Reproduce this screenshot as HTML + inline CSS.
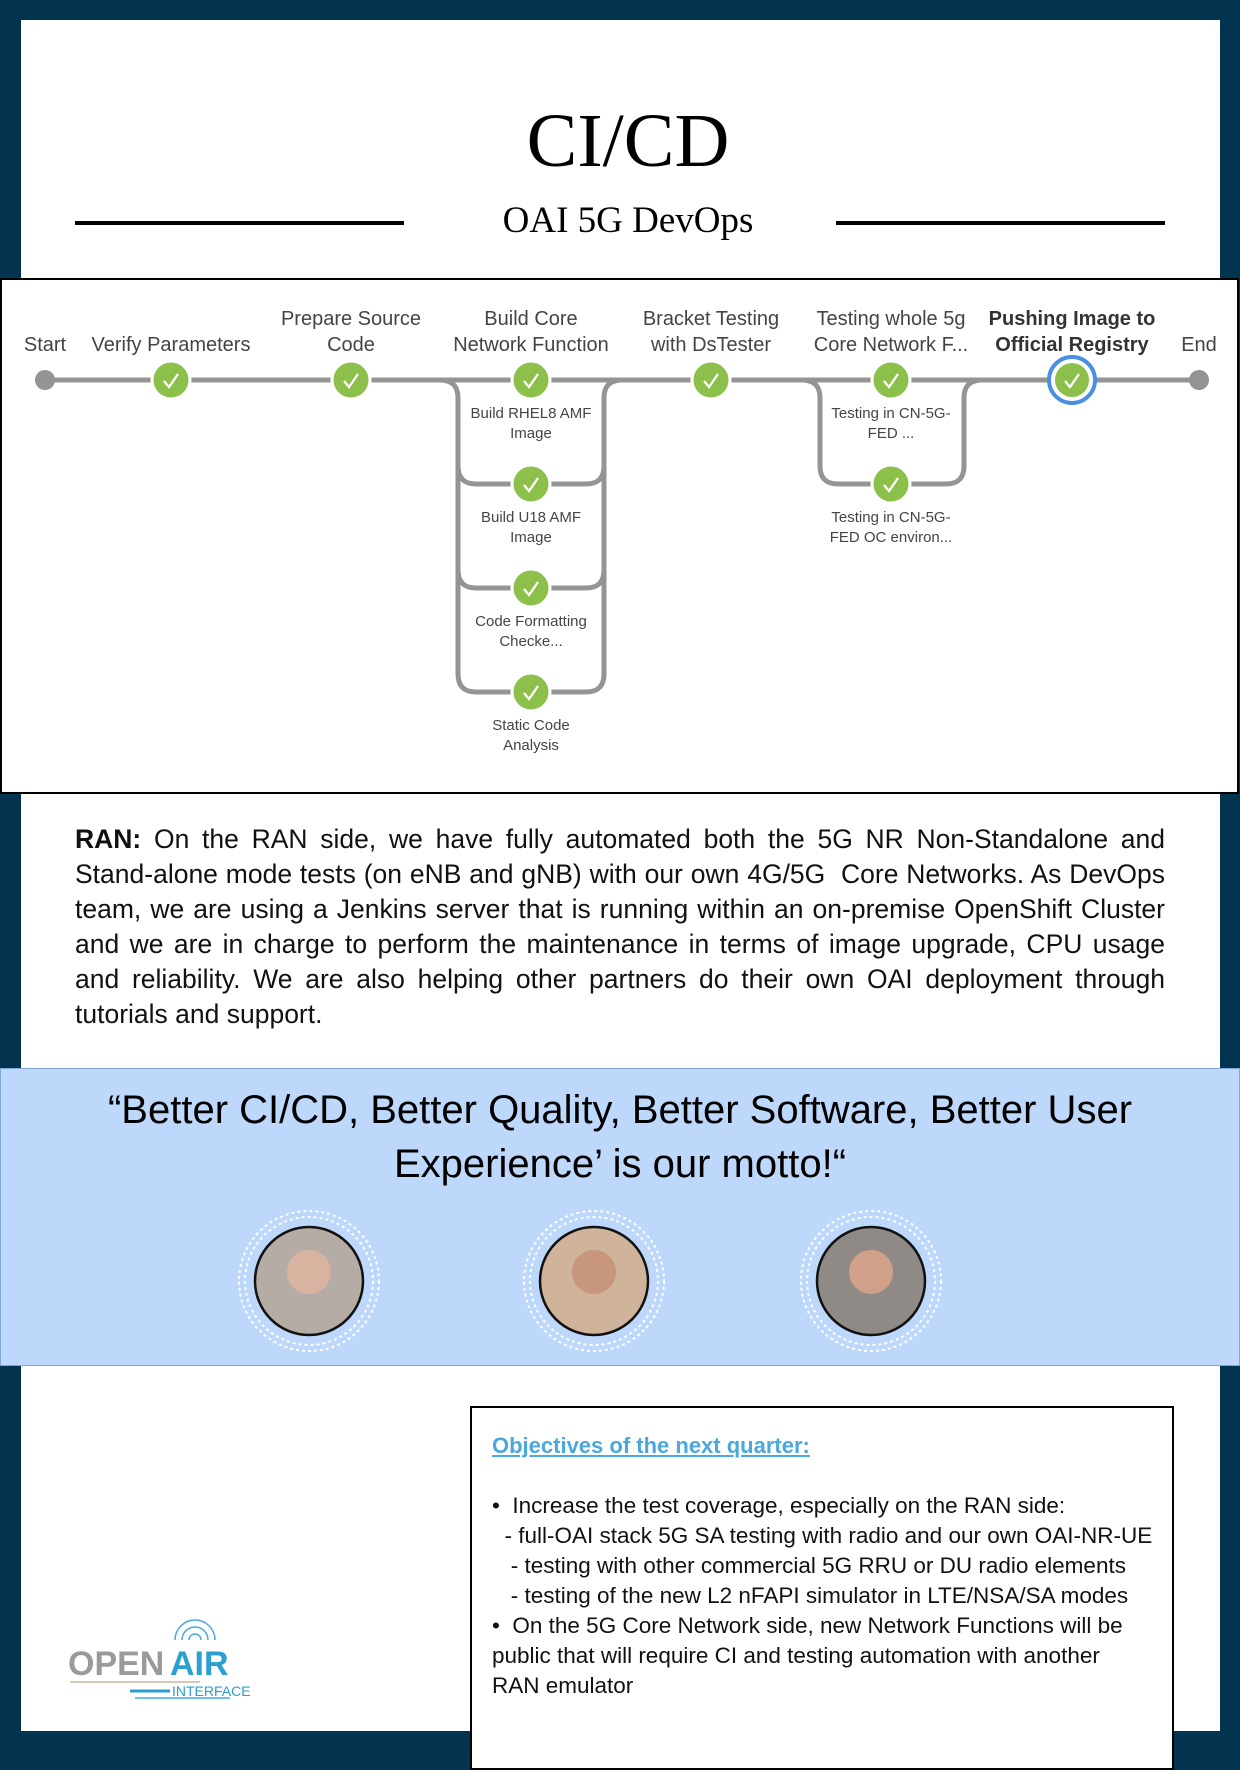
<!DOCTYPE html>
<html><head><meta charset="utf-8"><style>
html,body{margin:0;padding:0}
body{width:1240px;height:1754px;background:#02344f;position:relative;overflow:hidden;font-family:"Liberation Sans",sans-serif}
.panel{position:absolute;left:21px;top:20px;width:1199px;height:1711px;background:#fff}
.abs{position:absolute}
</style></head><body>
<div class="panel"></div>
<div class="abs" style="left:0;width:1256px;top:96px;text-align:center;font-family:'Liberation Serif',serif;font-size:76px;line-height:90px;color:#000">CI/CD</div>
<div class="abs" style="left:75px;top:221px;width:329px;height:4px;background:#000"></div>
<div class="abs" style="left:836px;top:221px;width:329px;height:4px;background:#000"></div>
<div class="abs" style="left:0;width:1256px;top:199px;text-align:center;font-family:'Liberation Serif',serif;font-size:37px;line-height:44px;color:#000">OAI 5G DevOps</div>

<svg class="abs" style="left:0;top:278px" width="1240" height="517" viewBox="0 278 1240 517" font-family="Liberation Sans, sans-serif">
<rect x="1" y="279" width="1237" height="514" fill="#fff" stroke="#000" stroke-width="2"/>
<g fill="none" stroke="#949494" stroke-width="5">
<line x1="45" y1="380" x2="1199" y2="380"/>
<path d="M440 380 Q458 380 458 398 V674 Q458 692 476 692 H586 Q604 692 604 674 V398 Q604 380 622 380"/>
<path d="M458 466 Q458 484 476 484 H586 Q604 484 604 466"/>
<path d="M458 570 Q458 588 476 588 H586 Q604 588 604 570"/>
<path d="M802 380 Q820 380 820 398 V466 Q820 484 838 484 H946 Q964 484 964 466 V398 Q964 380 982 380"/>
</g>
<circle cx="45" cy="380" r="10" fill="#949494"/>
<circle cx="1199" cy="380" r="10" fill="#949494"/>
<g fill="#8cc04b" stroke="#fff" stroke-width="3">
<circle cx="171" cy="380" r="19"/><circle cx="351" cy="380" r="19"/><circle cx="531" cy="380" r="19"/><circle cx="711" cy="380" r="19"/><circle cx="891" cy="380" r="19"/>
<circle cx="531" cy="484" r="19"/><circle cx="531" cy="588" r="19"/><circle cx="531" cy="692" r="19"/><circle cx="891" cy="484" r="19"/>
</g>
<circle cx="1072" cy="380" r="23" fill="#fff" stroke="#4a90e2" stroke-width="4"/>
<circle cx="1072" cy="380" r="17" fill="#8cc04b"/>
<g fill="none" stroke="#fff" stroke-width="2.2">
<path d="M164 381 l5 6 l9 -13"/><path d="M344 381 l5 6 l9 -13"/><path d="M524 381 l5 6 l9 -13"/><path d="M704 381 l5 6 l9 -13"/><path d="M884 381 l5 6 l9 -13"/><path d="M1065 381 l5 6 l9 -13"/>
<path d="M524 485 l5 6 l9 -13"/><path d="M524 589 l5 6 l9 -13"/><path d="M524 693 l5 6 l9 -13"/><path d="M884 485 l5 6 l9 -13"/>
</g>
<g fill="#444" font-size="20" text-anchor="middle">
<text x="45" y="351">Start</text>
<text x="171" y="351">Verify Parameters</text>
<text x="351" y="325">Prepare Source</text><text x="351" y="351">Code</text>
<text x="531" y="325">Build Core</text><text x="531" y="351">Network Function</text>
<text x="711" y="325">Bracket Testing</text><text x="711" y="351">with DsTester</text>
<text x="891" y="325">Testing whole 5g</text><text x="891" y="351">Core Network F...</text>
<text x="1072" y="325" font-weight="bold" fill="#333">Pushing Image to</text><text x="1072" y="351" font-weight="bold" fill="#333">Official Registry</text>
<text x="1199" y="351">End</text>
</g>
<g fill="#444" font-size="15" text-anchor="middle">
<text x="531" y="418">Build RHEL8 AMF</text><text x="531" y="438">Image</text>
<text x="531" y="522">Build U18 AMF</text><text x="531" y="542">Image</text>
<text x="531" y="626">Code Formatting</text><text x="531" y="646">Checke...</text>
<text x="531" y="730">Static Code</text><text x="531" y="750">Analysis</text>
<text x="891" y="418">Testing in CN-5G-</text><text x="891" y="438">FED ...</text>
<text x="891" y="522">Testing in CN-5G-</text><text x="891" y="542">FED OC environ...</text>
</g>
</svg>

<div class="abs" style="left:75px;top:822px;width:1090px;font-size:26.5px;line-height:35px;text-align:justify;color:#111">
<b>RAN:</b> On the RAN side, we have fully automated both the 5G NR Non-Standalone and Stand-alone mode tests (on eNB and gNB) with our own 4G/5G&nbsp; Core Networks. As DevOps team, we are using a Jenkins server that is running within an on-premise OpenShift Cluster and we are in charge to perform the maintenance in terms of image upgrade, CPU usage and reliability. We are also helping other partners do their own OAI deployment through tutorials and support.</div>

<div class="abs" style="left:0;top:1068px;width:1238px;height:296px;background:#bdd8fb;border:1px solid #7ea7d6"></div>
<div class="abs" style="left:40px;top:1083px;width:1160px;text-align:center;font-size:40px;line-height:54px;color:#000">“Better CI/CD, Better Quality, Better Software, Better User Experience’ is our motto!“</div>

<svg class="abs" style="left:0;top:1200px" width="1240" height="160">
<g fill="none" stroke="#fff" stroke-width="2" stroke-dasharray="3 3">
<circle cx="309" cy="81" r="70"/><circle cx="309" cy="81" r="64"/>
<circle cx="594" cy="81" r="70"/><circle cx="594" cy="81" r="64"/>
<circle cx="871" cy="81" r="70"/><circle cx="871" cy="81" r="64"/>
</g>
<g stroke="#111" stroke-width="2.5">
<circle cx="309" cy="81" r="54" fill="#b5aca6"/>
<circle cx="594" cy="81" r="54" fill="#cfb39a"/>
<circle cx="871" cy="81" r="54" fill="#8f8a86"/>
</g>
<circle cx="309" cy="72" r="22" fill="#d8b3a0"/><circle cx="594" cy="72" r="22" fill="#c8967c"/><circle cx="871" cy="72" r="22" fill="#d0a088"/>
</svg>

<div class="abs" style="left:470px;top:1406px;width:700px;height:360px;border:2px solid #000;background:#fff"></div>
<div class="abs" style="left:492px;top:1433px;font-size:22px;font-weight:bold;color:#4aa8dc;text-decoration:underline">Objectives of the next quarter:</div>
<div class="abs" style="left:492px;top:1491px;width:680px;font-size:22.5px;line-height:30px;color:#111;white-space:pre">•  Increase the test coverage, especially on the RAN side:
  - full-OAI stack 5G SA testing with radio and our own OAI-NR-UE
   - testing with other commercial 5G RRU or DU radio elements
   - testing of the new L2 nFAPI simulator in LTE/NSA/SA modes
•  On the 5G Core Network side, new Network Functions will be
public that will require CI and testing automation with another
RAN emulator</div>

<svg class="abs" style="left:60px;top:1605px" width="220" height="100">
<g fill="none" stroke="#4aa8dc" stroke-width="1.5"><path d="M115 35 a20 20 0 0 1 40 0"/><path d="M122 35 a13 13 0 0 1 26 0"/><path d="M129 35 a6 6 0 0 1 12 0"/></g>
<text x="8" y="70" font-size="34" font-weight="bold" fill="#9a9a9a" font-family="Liberation Sans Narrow, Liberation Sans, sans-serif">OPEN</text>
<text x="110" y="70" font-size="34" font-weight="bold" fill="#2a9fd0" font-family="Liberation Sans Narrow, Liberation Sans, sans-serif">AIR</text>
<text x="112" y="91" font-size="14" fill="#2a9fd0" font-family="Liberation Sans, sans-serif">INTERFACE</text>
<line x1="10" y1="77" x2="140" y2="77" stroke="#d6c9b8" stroke-width="2"/>
<line x1="70" y1="86" x2="110" y2="86" stroke="#2a9fd0" stroke-width="3"/>
<line x1="75" y1="93" x2="170" y2="93" stroke="#6fc3e6" stroke-width="2"/>
</svg>
</body></html>
